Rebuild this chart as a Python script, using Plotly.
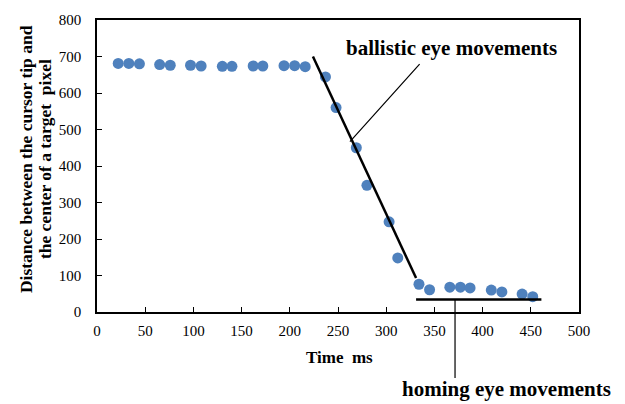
import plotly.graph_objects as go

time_ms = [22, 33, 44, 65, 76, 97, 108, 130, 140, 162, 172, 194, 205, 216,
           237, 248, 269, 280, 303, 312, 334, 345, 366, 377, 387, 409, 420, 441, 452]
distance = [681, 681, 680, 678, 676, 676, 674, 673, 673, 674, 674, 675, 675, 672,
            644, 560, 450, 347, 247, 148, 76, 61, 68, 68, 66, 60, 55, 49, 42]

ballistic_x = [224, 331]
ballistic_y = [700, 93]
homing_x = [331, 461]
homing_y = [34, 34]

x_ticks = [0, 50, 100, 150, 200, 250, 300, 350, 400, 450, 500]
y_ticks = [0, 100, 200, 300, 400, 500, 600, 700, 800]

y_title_lines = ["Distance between the cursor tip and", "the center of a target  pixel"]

FONT = "Liberation Serif"

L, R, T, B = 97, 579, 16, 312
def px(xp):
    return (xp - L) / (R - L)
def py(yp):
    return (B - yp) / (B - T)

fig = go.Figure()
fig.add_trace(go.Scatter(x=time_ms, y=distance, mode="markers",
                         marker=dict(color="#4F81BD", size=11), showlegend=False))
fig.add_trace(go.Scatter(x=ballistic_x, y=ballistic_y, mode="lines",
                         line=dict(color="black", width=2.5), showlegend=False))
fig.add_trace(go.Scatter(x=homing_x, y=homing_y, mode="lines",
                         line=dict(color="black", width=2.5), showlegend=False))

# ballistic annotation line + text
fig.add_annotation(x=262.4, y=467, ax=71, ay=-79, text="", showarrow=True,
                   arrowhead=0, arrowwidth=1.2, arrowcolor="black")
fig.add_annotation(xref="paper", yref="paper", x=px(451), y=py(44),
                   text="<b>ballistic eye movements</b>", showarrow=False,
                   xanchor="center", yanchor="middle",
                   font=dict(family=FONT, size=21, color="black"))
# homing annotation line + text
fig.add_annotation(x=371.4, y=34, ax=0, ay=80, text="", showarrow=True,
                   arrowhead=0, arrowwidth=1.2, arrowcolor="black")
fig.add_annotation(xref="paper", yref="paper", x=px(506), y=py(390),
                   text="<b>homing eye movements</b>", showarrow=False,
                   xanchor="center", yanchor="middle",
                   font=dict(family=FONT, size=21, color="black"))

# axis titles
fig.add_annotation(xref="paper", yref="paper", x=px(339), y=py(358),
                   text="<b>Time  ms</b>", showarrow=False,
                   xanchor="center", yanchor="middle",
                   font=dict(family=FONT, size=17, color="black"))
for cx, line in zip([26, 45], y_title_lines):
    fig.add_annotation(xref="paper", yref="paper", x=px(cx), y=py(157),
                       text=f"<b>{line}</b>",
                       showarrow=False, textangle=-90, xanchor="center", yanchor="middle",
                       font=dict(family=FONT, size=17.5, color="black"))

fig.update_layout(
    width=625, height=404,
    margin=dict(l=L, r=625 - R, t=T, b=404 - B),
    paper_bgcolor="white", plot_bgcolor="white",
    font=dict(family=FONT, size=15, color="black"),
)
fig.update_xaxes(range=[0, 500], tickvals=x_ticks, showgrid=False, zeroline=False,
                 showline=True, linecolor="black", linewidth=1.5, mirror=True,
                 ticks="inside", ticklen=5, tickcolor="black", ticklabelstandoff=4,
                 tickfont=dict(family=FONT, size=15, color="black"))
fig.update_yaxes(range=[0, 800], tickvals=y_ticks, showgrid=False, zeroline=False,
                 showline=True, linecolor="black", linewidth=1.5, mirror=True,
                 ticks="inside", ticklen=5, tickcolor="black", ticklabelstandoff=11,
                 tickfont=dict(family=FONT, size=15, color="black"))

fig.write_html("out.html")
